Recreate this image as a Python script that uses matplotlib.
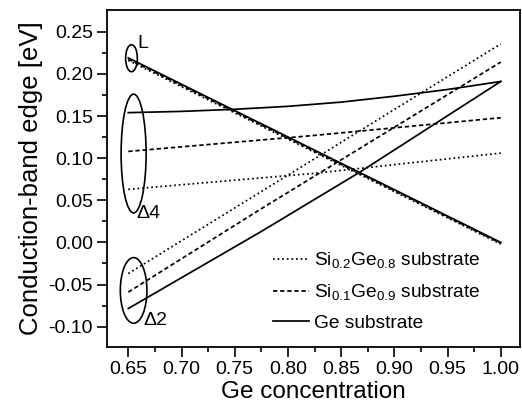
import matplotlib
matplotlib.use('Agg')
import matplotlib.pyplot as plt
from matplotlib.patches import Ellipse

plt.rcParams['font.family'] = ['Liberation Sans', 'DejaVu Sans']
plt.rcParams['mathtext.fontset'] = 'custom'
plt.rcParams['mathtext.rm'] = 'Liberation Sans'

# Ge substrate (solid)
ge_L_x = [0.65, 1.00]
ge_L_y = [0.219, 0.000]
ge_d4_x = [0.65, 0.70, 0.75, 0.80, 0.85, 0.90, 0.95, 1.00]
ge_d4_y = [0.154, 0.1555, 0.158, 0.1615, 0.1665, 0.1735, 0.1815, 0.191]
ge_d2_x = [0.65, 0.775, 0.8676, 1.00]
ge_d2_y = [-0.0785, 0.013, 0.0834, 0.191]

# Si0.1Ge0.9 substrate (dashed)
s9_L_x = [0.65, 1.00]
s9_L_y = [0.2175, -0.001]
s9_d4_x = [0.65, 0.825, 1.00]
s9_d4_y = [0.108, 0.127, 0.148]
s9_d2_x = [0.65, 0.775, 1.00]
s9_d2_y = [-0.059, 0.040, 0.214]

# Si0.2Ge0.8 substrate (dotted)
s8_L_x = [0.65, 1.00]
s8_L_y = [0.216, -0.002]
s8_d4_x = [0.65, 0.825, 1.00]
s8_d4_y = [0.063, 0.082, 0.106]
s8_d2_x = [0.65, 1.00]
s8_d2_y = [-0.037, 0.2356]

lw = 1.25
dash = (0, (2.5, 1.6))

fig = plt.figure(figsize=(5.22, 4.11), dpi=100)
ax = fig.add_axes([0.205, 0.156, 0.791, 0.820])

# dotted
ax.plot(s8_L_x, s8_L_y, color='black', lw=lw, ls=':')
ax.plot(s8_d4_x, s8_d4_y, color='black', lw=lw, ls=':', label=r'Si$_\mathregular{0.2}$Ge$_\mathregular{0.8}$ substrate')
ax.plot(s8_d2_x, s8_d2_y, color='black', lw=lw, ls=':')
# dashed
ax.plot(s9_L_x, s9_L_y, color='black', lw=lw, ls=dash)
ax.plot(s9_d4_x, s9_d4_y, color='black', lw=lw, ls=dash, label=r'Si$_\mathregular{0.1}$Ge$_\mathregular{0.9}$ substrate')
ax.plot(s9_d2_x, s9_d2_y, color='black', lw=lw, ls=dash)
# solid
ax.plot(ge_L_x, ge_L_y, color='black', lw=lw)
ax.plot(ge_d4_x, ge_d4_y, color='black', lw=lw, label='Ge substrate')
ax.plot(ge_d2_x, ge_d2_y, color='black', lw=lw)

# ellipses marking the valleys
ax.add_patch(Ellipse((0.653, 0.2186), 0.011, 0.032, fill=False, lw=1.2, color='black'))
ax.add_patch(Ellipse((0.655, 0.1055), 0.0235, 0.141, fill=False, lw=1.2, color='black'))
ax.add_patch(Ellipse((0.655, -0.057), 0.025, 0.078, fill=False, lw=1.2, color='black'))

ax.text(0.659, 0.236, 'L', fontsize=14, va='center', ha='left')
ax.text(0.658, 0.0345, 'Δ4', fontsize=14, va='center', ha='left')
ax.text(0.664, -0.0928, 'Δ2', fontsize=14, va='center', ha='left')

ax.set_xlim(0.630, 1.018)
ax.set_ylim(-0.124, 0.276)
ax.set_xticks([0.65, 0.70, 0.75, 0.80, 0.85, 0.90, 0.95, 1.00])
ax.set_yticks([-0.10, -0.05, 0.00, 0.05, 0.10, 0.15, 0.20, 0.25])
ax.set_xticks([0.675, 0.725, 0.775, 0.825, 0.875, 0.925, 0.975], minor=True)
ax.set_yticks([-0.075, -0.025, 0.025, 0.075, 0.125, 0.175, 0.225], minor=True)
ax.xaxis.set_major_formatter(matplotlib.ticker.FormatStrFormatter('%.2f'))
ax.yaxis.set_major_formatter(matplotlib.ticker.FormatStrFormatter('%.2f'))
ax.tick_params(which='major', direction='out', length=7, width=1.2, labelsize=14, pad=3)
ax.tick_params(which='minor', direction='out', length=3.6, width=1.2)
for s in ax.spines.values():
    s.set_linewidth(1.3)

ax.set_xlabel('Ge concentration', fontsize=17.5, labelpad=2)
ax.set_ylabel('Conduction-band edge [eV]', fontsize=18.5, labelpad=4)

ax.legend(loc='upper left', bbox_to_anchor=(0.402, 0.285), frameon=False, fontsize=13.8,
          handlelength=1.9, handletextpad=0.26, labelspacing=0.6, borderpad=0, borderaxespad=0)

fig.savefig('out.png', dpi=100)
